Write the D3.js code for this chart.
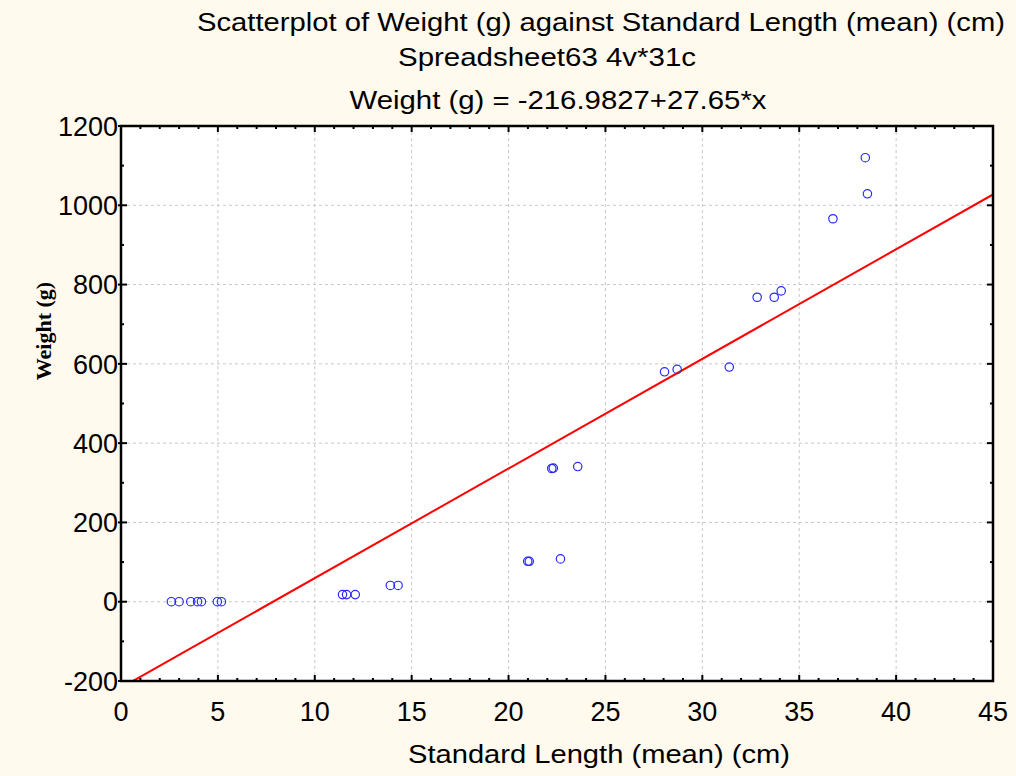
<!DOCTYPE html>
<html>
<head>
<meta charset="utf-8">
<script src="https://cdn.jsdelivr.net/npm/d3@7"></script>
<style>
  html, body { margin: 0; padding: 0; background: #FFF9EE; }
  svg { display: block; }
</style>
</head>
<body>
<svg id="chart" width="1016" height="776"></svg>
<script>
// ---- data ----
const lengthCm = [2.6, 3.0, 3.6, 3.95, 4.15, 4.97, 5.18,
                  11.43, 11.64, 12.09,
                  13.9, 14.3,
                  20.99, 21.07, 22.68,
                  22.23, 22.31, 23.57,
                  28.05, 28.7, 31.39,
                  32.83, 33.71, 34.07,
                  36.74, 38.41, 38.52];
const weightG = [0, 0, 0, 0, 0, 0, 0,
                 18, 18, 18,
                 41, 41,
                 102, 102, 108,
                 336, 337, 341,
                 580, 586, 592,
                 768, 768, 784,
                 966, 1120, 1029];
const regIntercept = -216.9827;
const regSlope = 27.65;
const xTicks = [0, 5, 10, 15, 20, 25, 30, 35, 40, 45];
const yTicks = [-200, 0, 200, 400, 600, 800, 1000, 1200];
const titleLines = ["Scatterplot of Weight (g) against Standard Length (mean) (cm)",
                    "Spreadsheet63 4v*31c",
                    "Weight (g) = -216.9827+27.65*x"];
const xTitle = "Standard Length (mean) (cm)";
const yTitle = "Weight (g)";

// ---- layout ----
const svg = d3.select("#chart");
const L = 121, R = 993, T = 126, B = 681;
const x = d3.scaleLinear().domain([0, 45]).range([L, R]);
const y = d3.scaleLinear().domain([-200, 1200]).range([B, T]);

svg.append("rect").attr("x", 0).attr("y", 0).attr("width", 1016).attr("height", 776).attr("fill", "#FFF9EE");
svg.append("rect").attr("x", L).attr("y", T).attr("width", R - L).attr("height", B - T).attr("fill", "#ffffff");

// grid
const grid = svg.append("g");
grid.selectAll(".gx").data(xTicks.slice(1, -1)).enter().append("line")
  .attr("x1", d => x(d)).attr("x2", d => x(d)).attr("y1", T).attr("y2", B)
  .attr("stroke", "#c8c8c8").attr("stroke-width", 1).attr("stroke-dasharray", "3,3");
grid.selectAll(".gy").data(yTicks.slice(1, -1)).enter().append("line")
  .attr("y1", d => y(d)).attr("y2", d => y(d)).attr("x1", L).attr("x2", R)
  .attr("stroke", "#c8c8c8").attr("stroke-width", 1).attr("stroke-dasharray", "3,3");

// clip
svg.append("clipPath").attr("id", "clip").append("rect")
  .attr("x", L).attr("y", T).attr("width", R - L).attr("height", B - T);

// regression line
const xs = [0, 45];
svg.append("line")
  .attr("clip-path", "url(#clip)")
  .attr("x1", x(xs[0])).attr("y1", y(regIntercept + regSlope * xs[0]))
  .attr("x2", x(xs[1])).attr("y2", y(regIntercept + regSlope * xs[1]))
  .attr("stroke", "#ff0000").attr("stroke-width", 2);

// points
svg.append("g").selectAll("circle").data(lengthCm.map((v, i) => [v, weightG[i]])).enter()
  .append("circle")
  .attr("cx", d => x(d[0])).attr("cy", d => y(d[1])).attr("r", 4.2)
  .attr("fill", "none").attr("stroke", "#2a2aff").attr("stroke-width", 1.2);

// axes (ticks inward)
const minorX = d3.range(1, 45);
const minorY = d3.range(-100, 1200, 100);
const axG = svg.append("g").attr("stroke", "#000");
minorX.forEach(v => {
  const major = v % 5 === 0;
  const len = major ? 6 : 3;
  axG.append("line").attr("x1", x(v)).attr("x2", x(v)).attr("y1", B).attr("y2", B - len).attr("stroke-width", 2);
  axG.append("line").attr("x1", x(v)).attr("x2", x(v)).attr("y1", T).attr("y2", T + len).attr("stroke-width", 2);
});
minorY.forEach(v => {
  const major = v % 200 === 0;
  const len = major ? 6 : 3;
  axG.append("line").attr("y1", y(v)).attr("y2", y(v)).attr("x1", L).attr("x2", L + len).attr("stroke-width", 2);
  axG.append("line").attr("y1", y(v)).attr("y2", y(v)).attr("x1", R).attr("x2", R - len).attr("stroke-width", 2);
});
yTicks.forEach(v => {
  axG.append("line").attr("y1", y(v)).attr("y2", y(v)).attr("x1", L - 3).attr("x2", L).attr("stroke-width", 2);
});
svg.append("rect").attr("x", L).attr("y", T).attr("width", R - L).attr("height", B - T)
  .attr("fill", "none").attr("stroke", "#000").attr("stroke-width", 2.5);

// tick labels
const font = "Arial, 'Liberation Sans', Helvetica, sans-serif";
svg.append("g").selectAll("text").data(yTicks).enter().append("text")
  .attr("x", L - 3).attr("y", d => y(d)).attr("dy", "0.36em")
  .attr("text-anchor", "end").attr("font-family", font).attr("font-size", 27).attr("fill", "#000")
  .text(d => d);
svg.append("g").selectAll("text").data(xTicks).enter().append("text")
  .attr("x", d => x(d)).attr("y", 721)
  .attr("text-anchor", "middle").attr("font-family", font).attr("font-size", 27).attr("fill", "#000")
  .text(d => d);

// axis titles
svg.append("text").attr("x", 599).attr("y", 763).attr("text-anchor", "middle")
  .attr("font-family", font).attr("font-size", 25).attr("fill", "#000")
  .attr("textLength", 382).attr("lengthAdjust", "spacingAndGlyphs")
  .text(xTitle);
svg.append("text").attr("transform", "translate(51,331) rotate(-90)").attr("text-anchor", "middle")
  .attr("font-family", "'Liberation Serif', 'Times New Roman', serif").attr("font-weight", "bold")
  .attr("font-size", 22).attr("fill", "#000")
  .text(yTitle);

// titles
const titleSpecs = [
  {cx: 601, base: 31, w: 808},
  {cx: 547, base: 66, w: 298},
  {cx: 558, base: 109, w: 417}
];
titleLines.forEach((t, i) => {
  svg.append("text").attr("x", titleSpecs[i].cx).attr("y", titleSpecs[i].base)
    .attr("text-anchor", "middle").attr("font-family", font).attr("font-size", 25).attr("fill", "#000")
    .attr("textLength", titleSpecs[i].w).attr("lengthAdjust", "spacingAndGlyphs")
    .text(t);
});
</script>
</body>
</html>
